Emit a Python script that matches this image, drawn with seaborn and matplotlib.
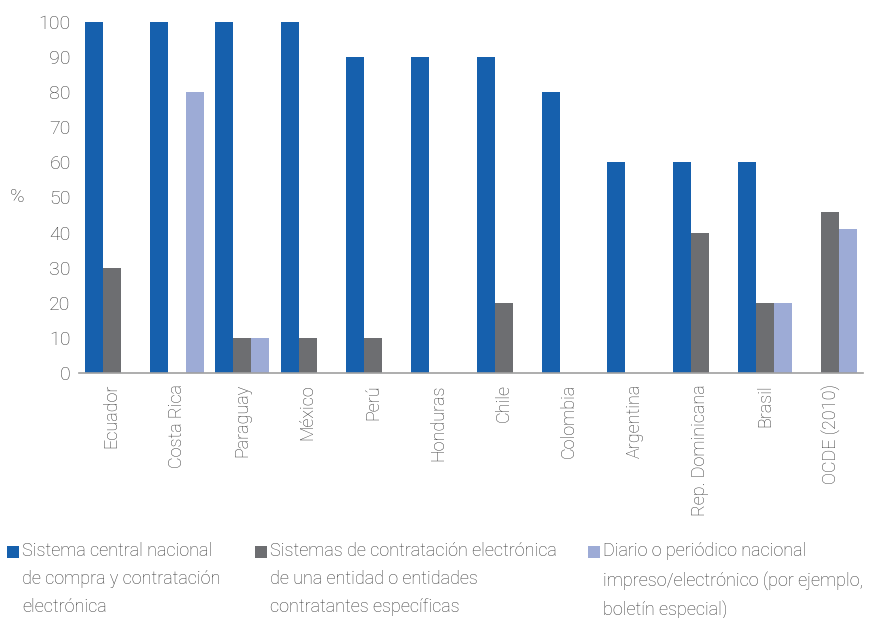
import matplotlib
matplotlib.use("Agg")
import matplotlib.pyplot as plt
import seaborn as sns
import pandas as pd
from matplotlib.patches import Rectangle

countries = ["Ecuador", "Costa Rica", "Paraguay", "México", "Perú", "Honduras",
             "Chile", "Colombia", "Argentina", "Rep. Dominicana", "Brasil", "OCDE (2010)"]
central = [100, 100, 100, 100, 90, 90, 90, 80, 60, 60, 60, 0]
entidades = [30, 0, 10, 10, 10, 0, 20, 0, 0, 40, 20, 46]
diario = [0, 80, 10, 0, 0, 0, 0, 0, 0, 0, 20, 41]
series_names = [
    "Sistema central nacional\nde compra y contratación\nelectrónica",
    "Sistemas de contratación electrónica\nde una entidad o entidades\ncontratantes específicas",
    "Diario o periódico nacional\nimpreso/electrónico (por ejemplo,\nboletín especial)",
]
colors = ["#1660AD", "#6D6E71", "#9DABD6"]
yticks = [0, 10, 20, 30, 40, 50, 60, 70, 80, 90, 100]

rows = []
for name, vals in zip(series_names, [central, entidades, diario]):
    for c, v in zip(countries, vals):
        rows.append({"country": c, "serie": name, "value": v})
df = pd.DataFrame(rows)

sns.set_style("white")
font = ["Roboto", "DejaVu Sans"]
plt.rcParams["font.family"] = font
plt.rcParams["font.weight"] = "light"
txt = "#3A3A3A"

fig = plt.figure(figsize=(8.69, 6.18), dpi=100)
ax = fig.add_axes([79/869, 1-373/618, (863-79)/869, (373-22)/618])
sns.barplot(data=df, x="country", y="value", hue="serie", order=countries,
            hue_order=series_names, palette=colors, width=0.83, gap=0,
            linewidth=0, saturation=1, ax=ax, legend=False)
ax.set_ylim(0, 100)
ax.set_xlim(-0.5, len(countries)-0.5)
ax.set_yticks(yticks)
ax.set_yticklabels([str(t) for t in yticks], fontsize=14, color=txt, fontweight="light")
ax.set_xticks(range(len(countries)))
ax.set_xticklabels(countries, rotation=90, fontsize=13, color=txt, va="top", ha="center",
                   fontweight="light")
ax.tick_params(axis="both", length=0)
ax.tick_params(axis="y", pad=6)
ax.tick_params(axis="x", pad=8)
ax.set_xlabel("")
ax.set_ylabel("%", rotation=0, fontsize=14, color=txt, labelpad=0, ha="center", va="center",
              fontweight="light")
ax.yaxis.set_label_coords((17-79)/784, (373-197)/351)
for s in ["left", "right", "top"]:
    ax.spines[s].set_visible(False)
ax.spines["bottom"].set_color("#A0A0A0")
ax.spines["bottom"].set_linewidth(1.2)

# legend (manual, top-aligned squares)
leg_x = [7, 255, 588]
for x, name, col in zip(leg_x, series_names, colors):
    fig.patches.append(Rectangle((x/869, 1-558/618), 12/869, 12/618,
                                 transform=fig.transFigure, facecolor=col,
                                 edgecolor="none"))
    fig.text((x+15)/869, 1-542/618, name, fontsize=13, color=txt,
             va="top", ha="left", linespacing=1.72, fontweight="light")

fig.savefig("out.png", dpi=100)
